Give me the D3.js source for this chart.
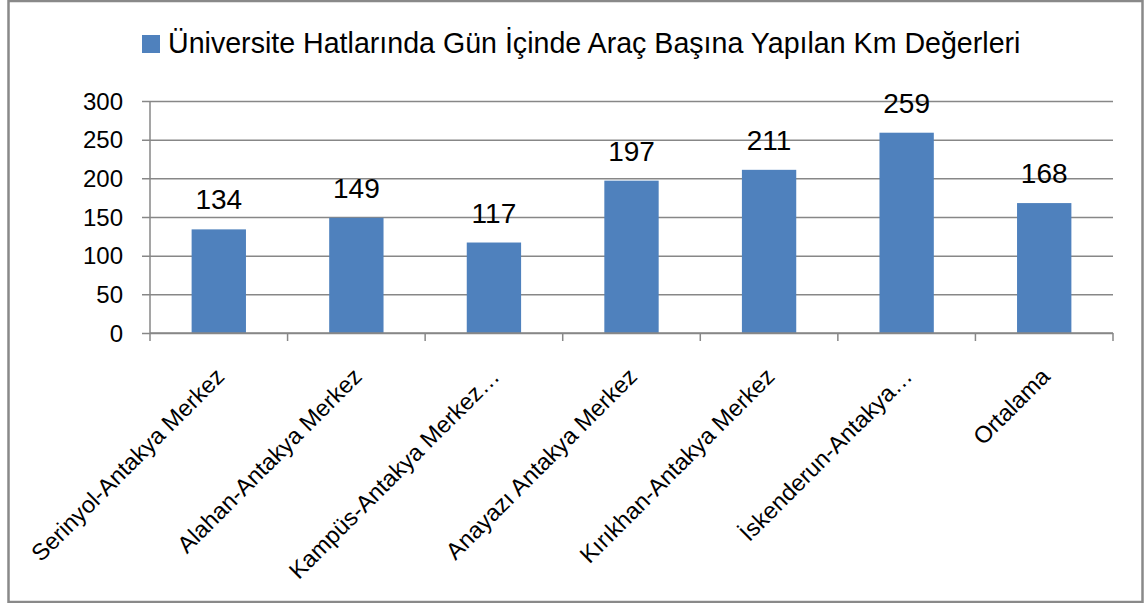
<!DOCTYPE html>
<html><head><meta charset="utf-8">
<script src="https://cdn.jsdelivr.net/npm/d3@7"></script>
<style>body{margin:0;background:#fff}svg{display:block}text{font-family:"Liberation Sans",Arial,sans-serif;fill:#000}</style>
</head><body>
<svg id="c" width="1148" height="603"></svg>
<script>
const categories = ["Serinyol-Antakya Merkez","Alahan-Antakya Merkez","Kampüs-Antakya Merkez…","Anayazı Antakya Merkez","Kırıkhan-Antakya Merkez","İskenderun-Antakya…","Ortalama"];
const values = [134,149,117,197,211,259,168];
const yTicks = [0,50,100,150,200,250,300];
const seriesName = "Üniversite Hatlarında Gün İçinde Araç Başına Yapılan Km Değerleri";

(function(){
const svg = d3.select("#c");
const pL = 150, pR = 1113, pT = 101, pB = 333;
const barColor = "#4F81BD", gridColor = "#878787";

// outer border
svg.append("rect").attr("x",8.5).attr("y",1).attr("width",1134).attr("height",601)
  .attr("fill","#fff").attr("stroke","#898989").attr("stroke-width",2.5);

const x = d3.scaleBand().domain(categories).range([pL,pR]).paddingInner(0.605).paddingOuter(0.3025);
const y = d3.scaleLinear().domain([0,300]).range([pB,pT]);

// gridlines + y axis
const yAxis = d3.axisLeft(y).tickValues(yTicks).tickSize(-(pR-pL)).tickSizeOuter(0).tickPadding(27);
const gy = svg.append("g").attr("transform",`translate(${pL},0)`).call(yAxis);
gy.select(".domain").remove();
gy.selectAll(".tick line").attr("stroke",gridColor).attr("stroke-width",1.5).attr("x1",-8);
gy.selectAll(".tick text").attr("font-size",24).attr("font-family","Liberation Sans, Arial, sans-serif").attr("dy","0.34em").attr("fill","#000");
svg.append("line").attr("x1",pL).attr("x2",pL).attr("y1",pT).attr("y2",pB)
  .attr("stroke",gridColor).attr("stroke-width",1.5);

// bars
svg.append("g").selectAll("rect").data(values).join("rect")
  .attr("x",(d,i)=>x(categories[i])).attr("width",x.bandwidth())
  .attr("y",d=>y(d)).attr("height",d=>y(0)-y(d)).attr("fill",barColor);

// x axis
const step = x.step();
const tickPos = d3.range(categories.length+1).map(i=>pL+i*step);
svg.append("g").selectAll("line").data(tickPos).join("line")
  .attr("x1",d=>d).attr("x2",d=>d).attr("y1",pB).attr("y2",pB+8)
  .attr("stroke",gridColor).attr("stroke-width",1.5);
svg.append("line").attr("x1",pL).attr("x2",pR).attr("y1",pB).attr("y2",pB)
  .attr("stroke",gridColor).attr("stroke-width",1.5);

// category labels
svg.append("g").selectAll("text").data(categories).join("text")
  .attr("transform",d=>`translate(${x(d)+x.bandwidth()/2+7},${378}) rotate(-45)`)
  .attr("text-anchor","end").attr("font-size",23.5).text(d=>d);

// data labels
svg.append("g").selectAll("text").data(values).join("text")
  .attr("x",(d,i)=>x(categories[i])+x.bandwidth()/2).attr("y",d=>y(d)-20)
  .attr("text-anchor","middle").attr("font-size",28).text(d=>d);

// legend
svg.append("rect").attr("x",142).attr("y",35).attr("width",18).attr("height",18).attr("fill",barColor);
svg.append("text").attr("x",168).attr("y",53).attr("font-size",28.6).text(seriesName);
})();
</script>
</body></html>
